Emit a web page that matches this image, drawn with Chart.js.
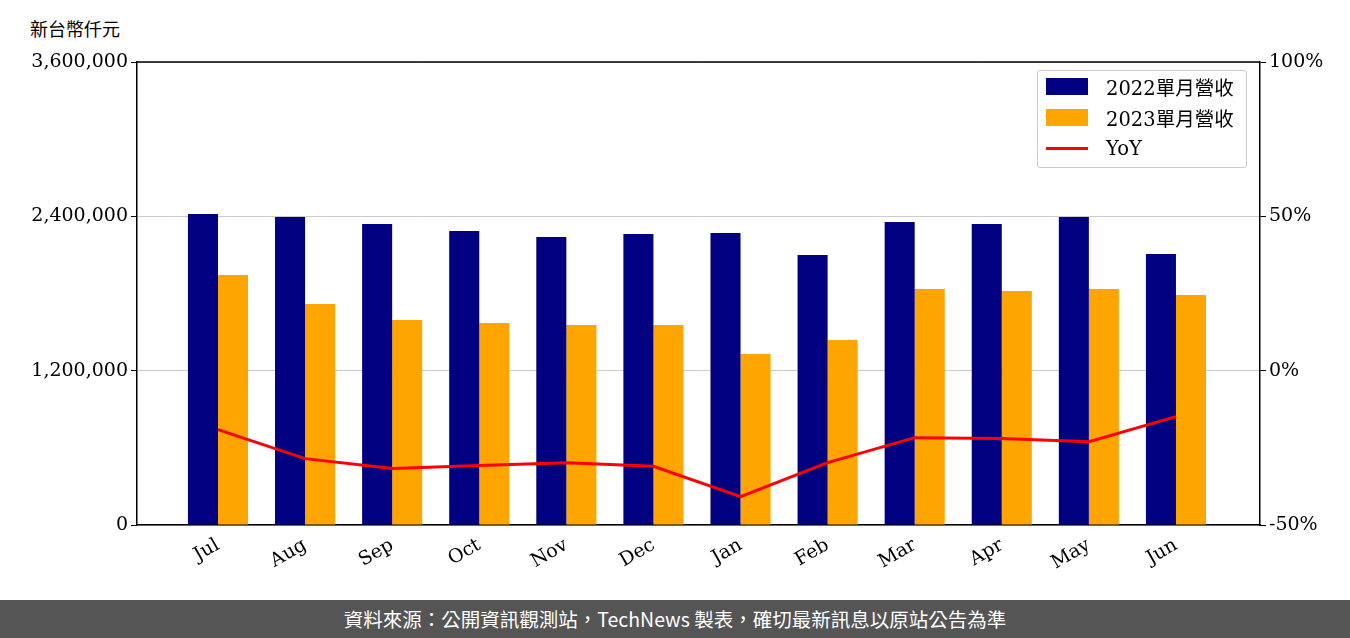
<!DOCTYPE html>
<html><head><meta charset="utf-8">
<script src="https://cdn.jsdelivr.net/npm/chart.js@4"></script>
<style>
body{margin:0;width:1350px;height:638px;background:#fff;position:relative;overflow:hidden;font-family:"DejaVu Serif",serif}
#unit{position:absolute;left:30px;top:15px;font:18px "Noto Sans CJK TC";color:#000}
#legend{position:absolute;left:1037px;top:70px;width:208px;height:96px;border:1px solid #ccc;border-radius:3px;background:rgba(255,255,255,.8);font:19.5px "DejaVu Serif","Noto Sans CJK TC",serif}
#legend div{height:31px;display:flex;align-items:center;padding-left:8px}
#legend span{display:inline-block;width:42px;margin-right:18px}
#foot{position:absolute;left:0;top:600px;width:1350px;height:38px;background:#555;color:#fff;text-align:center;font:19.5px "Noto Sans CJK TC";line-height:38px}
</style></head><body>
<div id="unit">新台幣仟元</div>
<canvas id="c" width="1350" height="600" style="position:absolute;left:0;top:0"></canvas>
<div id="legend">
<div><span style="height:17px;background:#000080"></span>2022單月營收</div>
<div><span style="height:17px;background:#ffa500"></span>2023單月營收</div>
<div><span style="height:3px;background:#ff0000"></span>YoY</div>
</div>
<div id="foot">資料來源：公開資訊觀測站，TechNews 製表，確切最新訊息以原站公告為準</div>
<script>
// Data
const months = ['Jul','Aug','Sep','Oct','Nov','Dec','Jan','Feb','Mar','Apr','May','Jun'];
const rev2022 = [2418000,2395000,2340000,2286000,2239000,2263000,2270000,2099000,2356000,2340000,2395000,2107000];
const rev2023 = [1944000,1718000,1594000,1571000,1555000,1555000,1330000,1438000,1835000,1819000,1835000,1788000];
const yoy = [-19.1,-28.5,-31.7,-30.7,-29.8,-31.0,-40.8,-29.8,-21.7,-22.0,-23.0,-14.9];

const pts = arr => arr.map((v, i) => ({x: i, y: v}));
const font = {family:'"DejaVu Serif", serif', size:19};
new Chart(document.getElementById('c'), {
    data: {
        datasets: [
            {type:'line', data:pts(yoy), yAxisID:'y1', borderColor:'#ff0000', borderWidth:3, pointRadius:0, tension:0},
            {type:'bar', data:pts(rev2022), yAxisID:'y', backgroundColor:'#000080', categoryPercentage:0.69, barPercentage:1},
            {type:'bar', data:pts(rev2023), yAxisID:'y', backgroundColor:'#ffa500', categoryPercentage:0.69, barPercentage:1}
        ]
    },
    options: {
        responsive:false, animation:false,
        layout:{padding:{top:62,left:0,right:0,bottom:0}},
        plugins:{legend:{display:false}, tooltip:{enabled:false}},
        scales: {
            x: {
                type:'linear', min:-0.93, max:11.965, offset:false,
                afterBuildTicks: s => { s.ticks = months.map((m, i) => ({value: i})); },
                grid:{display:false, drawTicks:true, tickLength:6},
                border:{color:'#000', width:1.5},
                ticks:{font:font, color:'#000', maxRotation:30, minRotation:30, autoSkip:false, callback:v => months[v]},
                afterFit: s => { s.height = 75; }
            },
            y: {
                position:'left', min:0, max:3600000,
                ticks:{stepSize:1200000, font:font, color:'#000', callback:v => v.toLocaleString('en-US')},
                grid:{color:'#cccccc', tickLength:6, tickColor:'#000'},
                border:{color:'#000', width:1.5},
                afterFit: s => { s.width = 137; }
            },
            y1: {
                position:'right', min:-50, max:100,
                ticks:{stepSize:50, font:font, color:'#000', callback:v => v + '%'},
                grid:{drawOnChartArea:false, tickLength:6, tickColor:'#000'},
                border:{color:'#000', width:1.5},
                afterFit: s => { s.width = 90; }
            }
        }
    },
    plugins:[{id:'topline', afterDraw(ch){const a=ch.chartArea,c=ch.ctx;c.save();c.strokeStyle='#000';c.lineWidth=1.5;c.beginPath();c.moveTo(a.left,a.top);c.lineTo(a.right,a.top);c.stroke();c.restore();}}]
});
</script>
</body></html>
